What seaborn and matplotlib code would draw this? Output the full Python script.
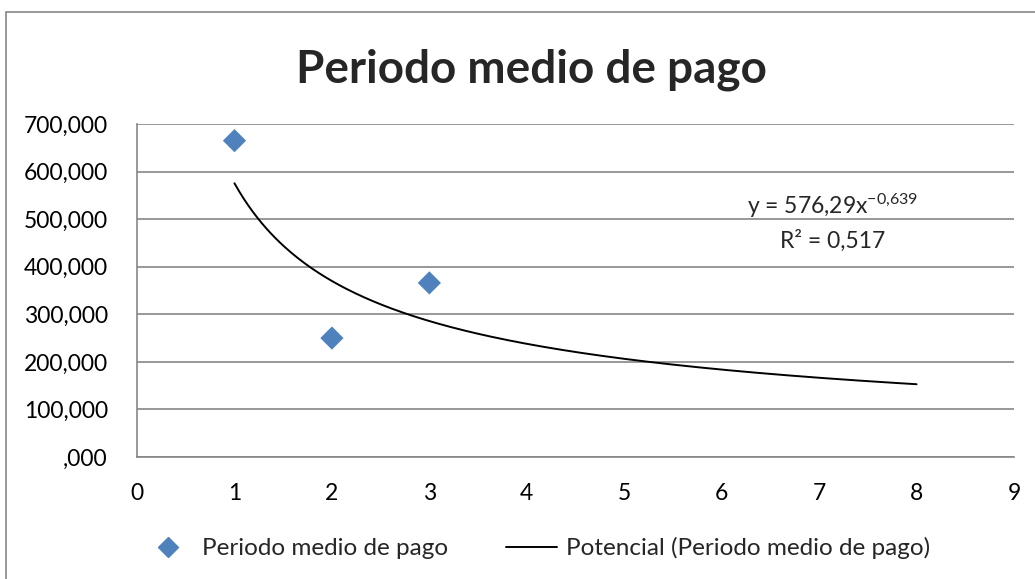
import numpy as np
import pandas as pd
import matplotlib
matplotlib.use("Agg")
import matplotlib.pyplot as plt
from matplotlib.patches import Rectangle
from matplotlib.lines import Line2D
import seaborn as sns

# data
periodo = [1, 2, 3]
pago = [665, 250, 366]
y_ticks = [0, 100, 200, 300, 400, 500, 600, 700]
x_ticks = [0, 1, 2, 3, 4, 5, 6, 7, 8, 9]
trend_range = [1, 8]
eq_text = "y = 576,29x$^{-0{,}639}$"
r2_text = "R² = 0,517"

BLUE = "#4F81BD"
GRID = "#868686"

sns.set_style("white")
plt.rcParams["font.family"] = ["Lato", "DejaVu Sans"]
plt.rcParams["mathtext.default"] = "regular"

df = pd.DataFrame({"x": periodo, "y": pago})

# power trendline fitted in log-log space, like Excel does
b, ln_a = np.polyfit(np.log(df["x"]), np.log(df["y"]), 1)
xs = np.linspace(trend_range[0], trend_range[1], 300)
ys = np.exp(ln_a) * xs ** b

fig = plt.figure(figsize=(10.35, 5.79), dpi=100)
ax = fig.add_axes([0.1324, 0.2107, 0.8473, 0.5751])

# chart frame (cut off on right and bottom)
fig.patches.append(Rectangle((6 / 1035, -0.1), 1.2, 1 - 12 / 579 + 0.1,
                             transform=fig.transFigure, fill=False,
                             edgecolor=GRID, linewidth=1.2))

ax.plot(xs, ys, color="black", linewidth=1.4, zorder=2)
sns.scatterplot(data=df, x="x", y="y", marker="D", s=140, color=BLUE,
                edgecolor="none", ax=ax, zorder=3)

ax.set_xlim(0, 9)
ax.set_ylim(0, 700)
ax.set_xticks(x_ticks)
ax.set_yticks(y_ticks)
ax.set_yticklabels([",000" if v == 0 else f"{v},000" for v in y_ticks])
ax.set_xlabel("")
ax.set_ylabel("")
ax.tick_params(axis="both", labelsize=16.5, colors=GRID, labelcolor="black",
               length=8, width=1.2, direction="out")
ax.tick_params(axis="x", pad=11)
ax.tick_params(axis="y", pad=13)
ax.yaxis.grid(True, color=GRID, linewidth=1.2)
ax.set_axisbelow(True)
for side in ["top", "right"]:
    ax.spines[side].set_visible(False)
for side in ["left", "bottom"]:
    ax.spines[side].set_color(GRID)
    ax.spines[side].set_linewidth(1.2)

ax.text(7.14, 528, eq_text, ha="center", va="center", fontsize=16.5)
ax.text(7.14, 455, r2_text, ha="center", va="center", fontsize=16.5)

fig.text(0.513, 1 - 70 / 579, "Periodo medio de pago", ha="center",
         va="center", fontsize=33, fontweight="bold")

handles = [
    Line2D([], [], marker="D", color=BLUE, linestyle="none", markersize=10),
    Line2D([], [], color="black", linewidth=1.4),
]
fig.legend(handles, ["Periodo medio de pago", "Potencial (Periodo medio de pago)"],
           loc="center", bbox_to_anchor=(0.518, 1 - 548 / 579), ncol=2,
           frameon=False, fontsize=17.5, handlelength=2.1, columnspacing=2.4,
           handletextpad=0.35)

fig.savefig("out.png", dpi=100)
